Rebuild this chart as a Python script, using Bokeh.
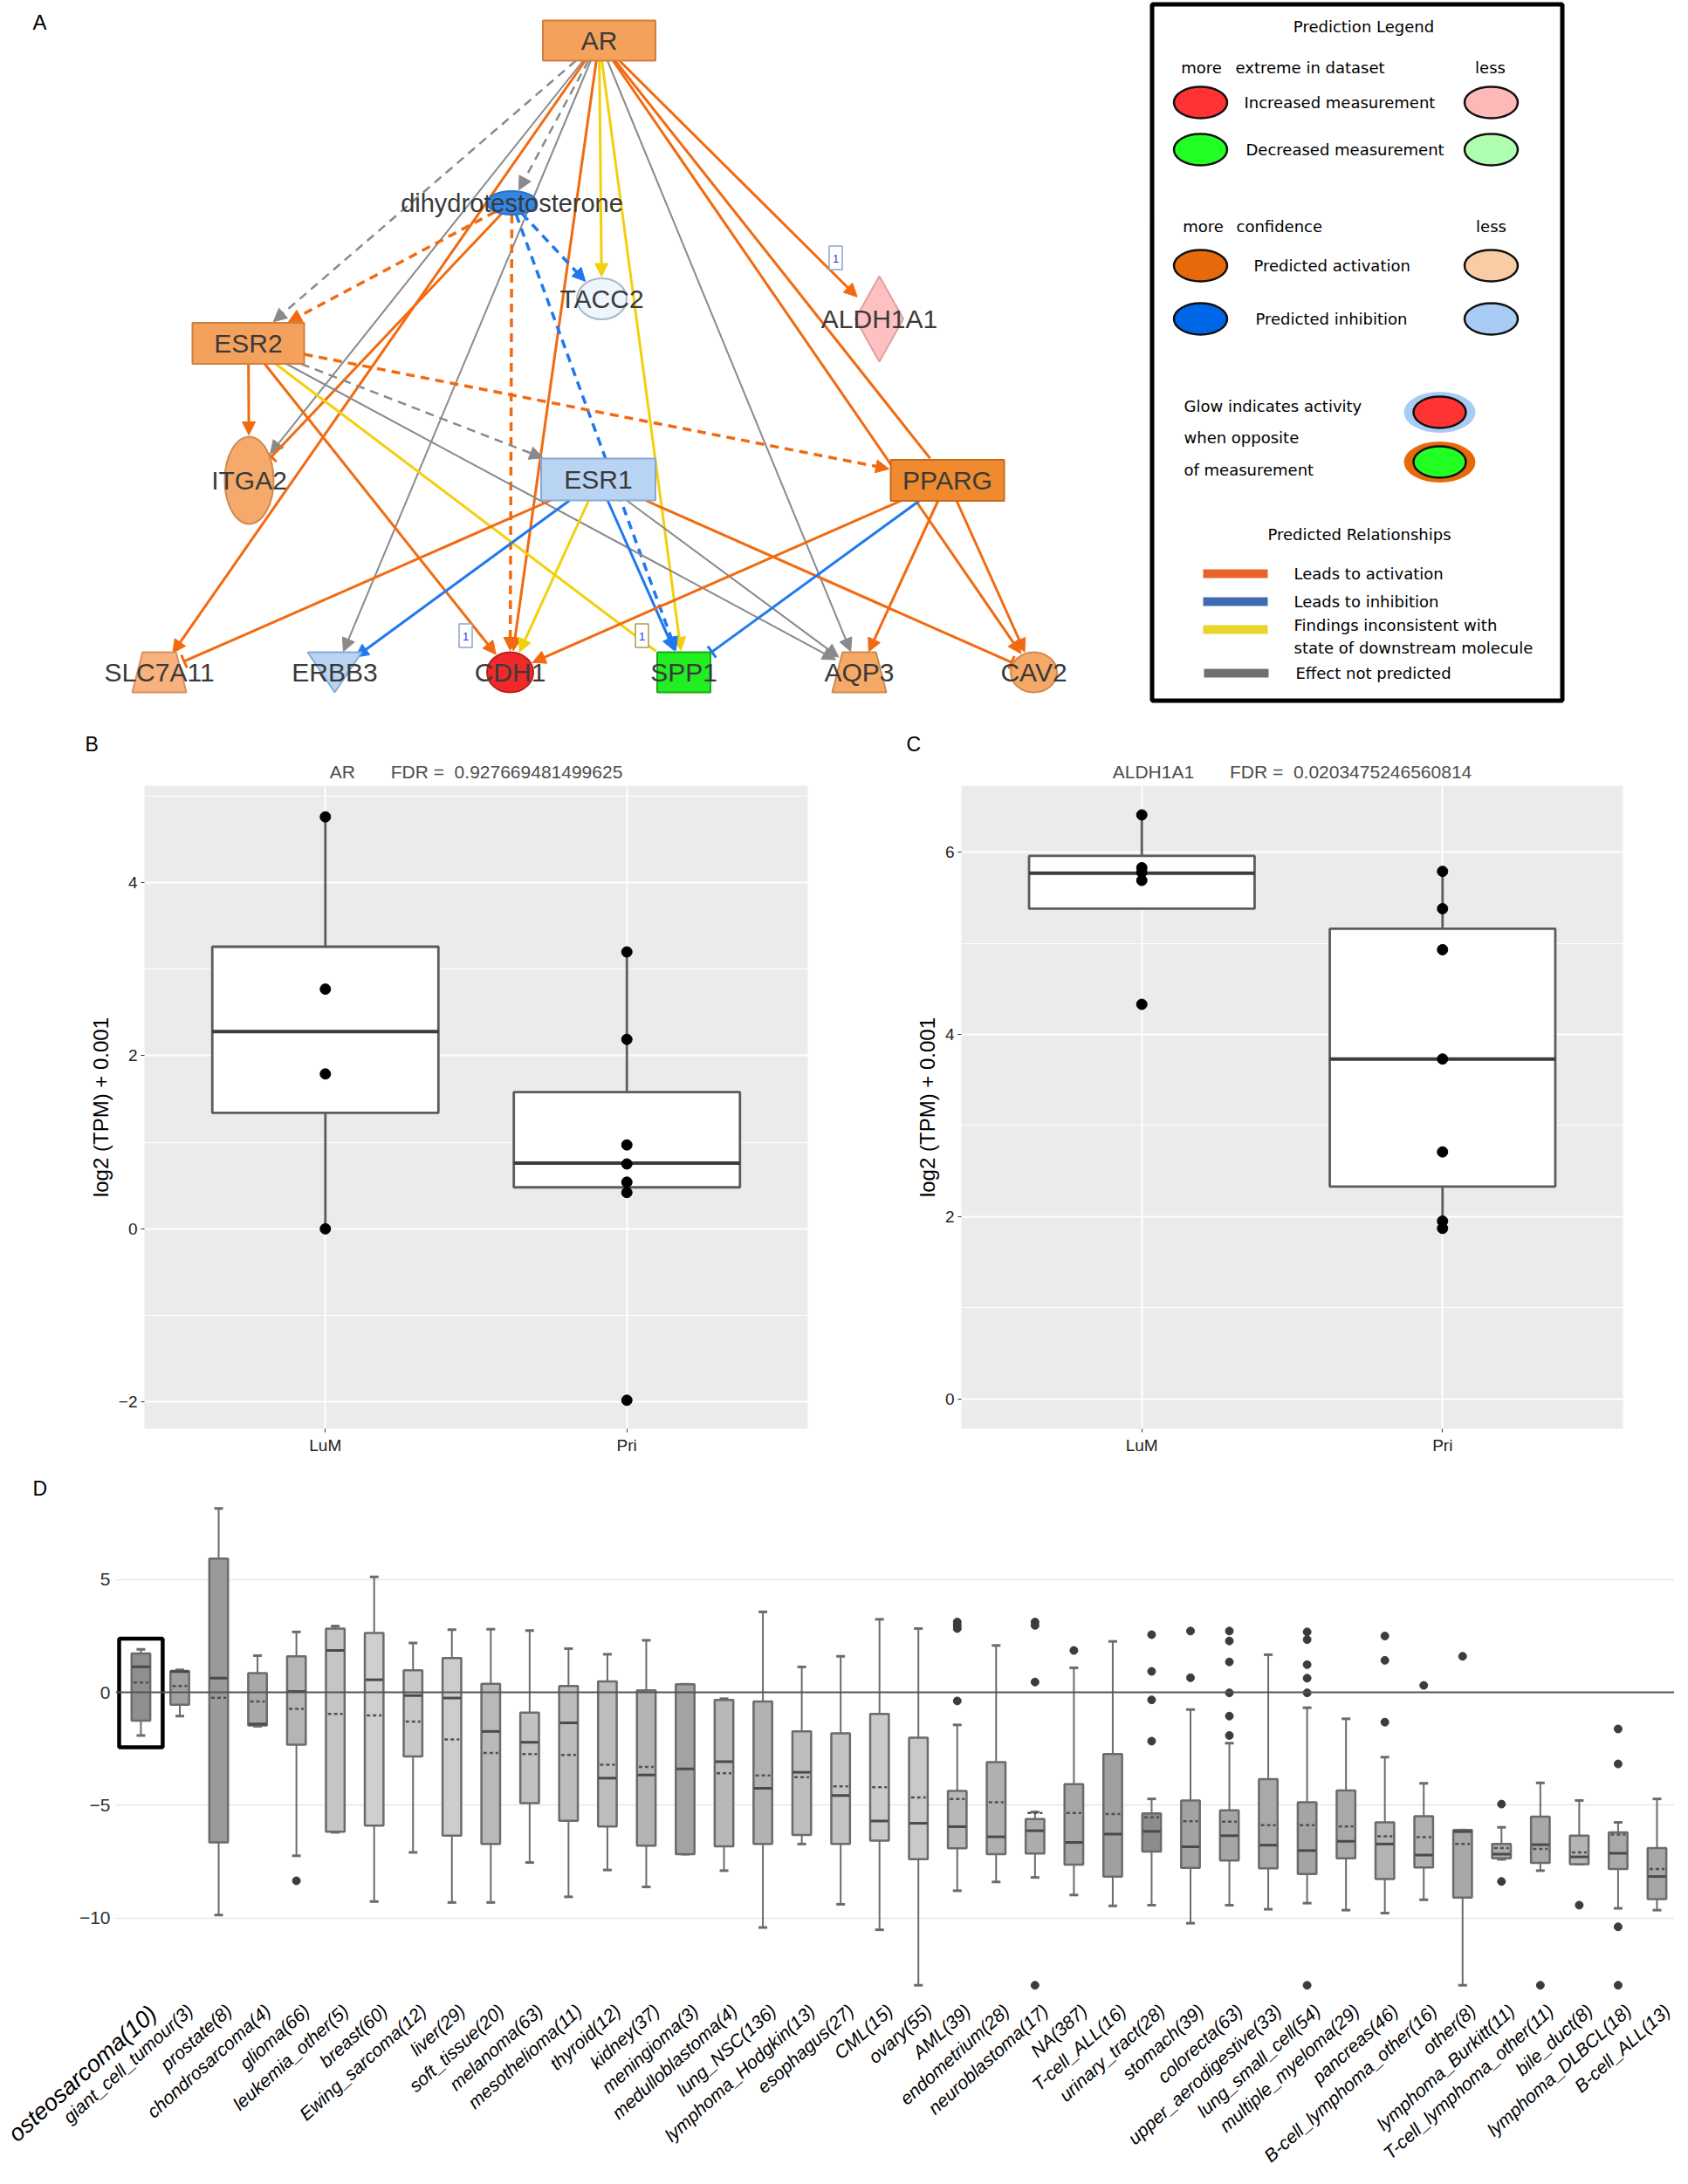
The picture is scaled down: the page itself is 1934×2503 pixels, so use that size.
import math
from bokeh.plotting import figure
from bokeh.models import (Range1d, FixedTicker, Title, Arrow, NormalHead, TeeHead, Span)
from bokeh.layouts import column, row
from bokeh.embed import file_html
from bokeh.resources import INLINE
from bokeh.core.properties import value

FONT = "Liberation Sans"

# ===================== DATA =====================
# ---- Panel A: network ----
node_names = ["AR", "dihydrotestosterone", "TACC2", "ALDH1A1", "ESR2", "ITGA2", "ESR1",
              "PPARG", "SLC7A11", "ERBB3", "CDH1", "SPP1", "AQP3", "CAV2"]
edge_src = ["AR"] * 12 + ["dihydrotestosterone"] * 5 + ["ESR2"] * 6 + ["ESR1"] * 6 + ["PPARG"] * 4
edge_dst = ["dihydrotestosterone", "ESR2", "ITGA2", "ERBB3", "AQP3", "SLC7A11", "CDH1", "ALDH1A1",
            "PPARG", "CAV2", "TACC2", "SPP1",
            "ESR2", "CDH1", "ITGA2", "TACC2", "SPP1",
            "ITGA2", "CDH1", "SPP1", "ESR1", "AQP3", "PPARG",
            "SLC7A11", "ERBB3", "CDH1", "SPP1", "AQP3", "CAV2",
            "CDH1", "SPP1", "AQP3", "CAV2"]
edge_type = ["none", "none", "none", "none", "none", "act", "act", "act", "act", "act", "incon", "incon",
             "act", "act", "act", "inh", "inh",
             "act", "act", "incon", "none", "none", "act",
             "act", "inh", "incon", "inh", "none", "act",
             "act", "inh", "act", "act"]
edge_dashed = [True, True, False, False, False, False, False, False, False, False, False, False,
               True, True, False, True, True,
               False, False, False, True, False, True,
               False, False, False, False, False, False,
               False, False, False, False]
edge_end = ["arrow", "arrow", "arrow", "arrow", "arrow", "arrow", "arrow", "arrow", "none", "arrow", "arrow", "arrow",
            "arrow", "arrow", "tee", "arrow", "arrow",
            "arrow", "arrow", "none", "arrow", "arrow", "arrow",
            "tee", "arrow", "arrow", "arrow", "arrow", "tee",
            "arrow", "tee", "arrow", "arrow"]

legend_rows_1 = ["Increased measurement", "Decreased measurement"]
legend_rows_2 = ["Predicted activation", "Predicted inhibition"]
legend_glow = ["Glow indicates activity", "when opposite", "of measurement"]
legend_rel = ["Leads to activation", "Leads to inhibition", "Findings inconsistent with",
              "state of downstream molecule", "Effect not predicted"]

# ---- Panel B: AR ----
b_groups = ["LuM", "Pri"]
b_gene, b_fdr = "AR", "0.927669481499625"
b_pts_lum = [4.76, 2.77, 1.79, 0.00]
b_pts_pri = [3.20, 2.19, 0.97, 0.75, 0.54, 0.42, -1.98]
b_q1 = [1.34, 0.48]
b_med = [2.28, 0.76]
b_q3 = [3.26, 1.58]
b_lo = [0.00, 0.42]
b_hi = [4.76, 3.20]

# ---- Panel C: ALDH1A1 ----
c_groups = ["LuM", "Pri"]
c_gene, c_fdr = "ALDH1A1", "0.0203475246560814"
c_pts_lum = [6.41, 5.83, 5.78, 5.69, 4.33]
c_pts_pri = [5.79, 5.38, 4.93, 3.73, 2.71, 1.95, 1.87]
c_q1 = [5.38, 2.33]
c_med = [5.77, 3.73]
c_q3 = [5.96, 5.16]
c_lo = [5.38, 1.87]
c_hi = [6.41, 5.79]

# ---- Panel D: tumour types ----
d_cats = ["osteosarcoma(10)", "giant_cell_tumour(3)", "prostate(8)", "chondrosarcoma(4)", "glioma(66)",
          "leukemia_other(5)", "breast(60)", "Ewing_sarcoma(12)", "liver(29)", "soft_tissue(20)",
          "melanoma(63)", "mesothelioma(11)", "thyroid(12)", "kidney(37)", "meningioma(3)",
          "medulloblastoma(4)", "lung_NSC(136)", "lymphoma_Hodgkin(13)", "esophagus(27)", "CML(15)",
          "ovary(55)", "AML(39)", "endometrium(28)", "neuroblastoma(17)", "NA(387)",
          "T-cell_ALL(16)", "urinary_tract(28)", "stomach(39)", "colorecta(63)", "upper_aerodigestive(33)",
          "lung_small_cell(54)", "multiple_myeloma(29)", "pancreas(46)", "B-cell_lymphoma_other(16)", "other(8)",
          "lymphoma_Burkitt(11)", "T-cell_lymphoma_other(11)", "bile_duct(8)", "lymphoma_DLBCL(18)", "B-cell_ALL(13)"]
d_hi = [1.91, 1.00, 8.15, 1.63, 2.68, 2.94, 5.12, 2.19, 2.78, 2.80,
        2.74, 1.94, 1.69, 2.31, 0.36, -0.28, 3.57, 1.13, 1.60, 3.24,
        2.83, -1.44, 2.08, -5.30, 1.09, 2.26, -4.72, -0.76, -2.25, 1.67,
        -0.68, -1.17, -2.87, -4.03, -6.10, -5.98, -4.01, -4.79, -5.76, -4.72]
d_q3 = [1.72, 0.95, 5.93, 0.85, 1.60, 2.83, 2.63, 0.98, 1.52, 0.38,
        -0.90, 0.28, 0.49, 0.09, 0.36, -0.33, -0.40, -1.73, -1.81, -0.95,
        -2.01, -4.37, -3.09, -5.61, -4.07, -2.73, -5.36, -4.79, -5.23, -3.84,
        -4.87, -4.35, -5.76, -5.49, -6.10, -6.72, -5.51, -6.35, -6.20, -6.90]
d_med = [1.13, 0.92, 0.63, -1.40, 0.04, 1.86, 0.56, -0.14, -0.25, -1.73,
         -2.21, -1.35, -3.80, -3.66, -3.39, -3.07, -4.25, -3.54, -4.57, -5.70,
         -5.80, -5.95, -6.40, -6.13, -6.65, -6.28, -6.16, -6.84, -6.35, -6.77,
         -7.01, -6.60, -6.72, -7.21, -6.17, -7.17, -6.75, -7.29, -7.13, -8.16]
d_q1 = [-1.25, -0.55, -6.65, -1.47, -2.32, -6.17, -5.90, -2.84, -6.35, -6.72,
        -4.91, -5.69, -5.94, -6.79, -7.17, -6.82, -6.72, -6.32, -6.72, -6.57,
        -7.39, -6.91, -7.17, -7.14, -7.63, -8.17, -7.05, -7.78, -7.45, -7.80,
        -8.05, -7.35, -8.27, -7.76, -9.09, -7.35, -7.56, -7.61, -7.83, -9.16]
d_lo = [-1.91, -1.05, -9.87, -1.50, -7.24, -6.20, -9.27, -7.09, -9.31, -9.31,
        -7.54, -9.06, -7.87, -8.62, -7.17, -7.90, -10.42, -6.72, -9.39, -10.52,
        -12.98, -8.79, -8.40, -8.20, -8.98, -9.46, -9.43, -10.23, -9.43, -9.61,
        -9.34, -9.65, -9.78, -9.19, -12.98, -7.40, -7.90, -7.61, -9.57, -9.65]
d_mean = [0.44, 0.28, -0.24, -0.40, -0.73, -0.95, -1.02, -1.29, -2.08, -2.68,
          -2.73, -2.77, -3.21, -3.30, -3.39, -3.58, -3.68, -3.76, -4.16, -4.20,
          -4.66, -4.72, -4.87, -5.34, -5.34, -5.39, -5.54, -5.71, -5.73, -5.88,
          -5.88, -5.94, -6.38, -6.42, -6.72, -6.90, -6.94, -7.09, -6.30, -7.83]
d_out_cat = ["glioma(66)",
             "AML(39)", "AML(39)", "AML(39)", "AML(39)",
             "neuroblastoma(17)", "neuroblastoma(17)", "neuroblastoma(17)", "neuroblastoma(17)",
             "NA(387)",
             "urinary_tract(28)", "urinary_tract(28)", "urinary_tract(28)", "urinary_tract(28)",
             "stomach(39)", "stomach(39)",
             "colorecta(63)", "colorecta(63)", "colorecta(63)", "colorecta(63)", "colorecta(63)", "colorecta(63)",
             "lung_small_cell(54)", "lung_small_cell(54)", "lung_small_cell(54)", "lung_small_cell(54)",
             "lung_small_cell(54)", "lung_small_cell(54)",
             "pancreas(46)", "pancreas(46)", "pancreas(46)",
             "B-cell_lymphoma_other(16)", "other(8)",
             "lymphoma_Burkitt(11)", "lymphoma_Burkitt(11)",
             "T-cell_lymphoma_other(11)", "bile_duct(8)",
             "lymphoma_DLBCL(18)", "lymphoma_DLBCL(18)", "lymphoma_DLBCL(18)", "lymphoma_DLBCL(18)"]
d_out_val = [-8.35,
             3.12, 2.97, 2.83, -0.38,
             3.12, 2.97, 0.46, -12.98,
             1.86,
             2.56, 0.93, -0.33, -2.16,
             2.72, 0.65,
             2.72, 2.28, 1.35, -0.02, -1.05, -1.91,
             2.68, 2.34, 1.23, 0.63, -0.02, -12.98,
             2.50, 1.42, -1.32,
             0.31, 1.60,
             -4.95, -8.38,
             -12.98, -9.43,
             -1.62, -3.17, -10.39, -12.98]
d_highlight = "osteosarcoma(10)"

# ===================== STYLES / LAYOUT =====================
node_x = [686, 586, 689, 1007, 284, 285, 685, 1085, 182, 383, 584, 783, 984, 1184]
node_y = [46, 232, 342, 365, 393, 550, 549, 550, 770, 770, 770, 770, 770, 770]
node_w = [129, 57, 57, 55, 128, 56, 131, 130, 62, 62, 53, 61, 62, 53]
node_h = [46, 27, 47, 98, 47, 100, 48, 47, 46, 46, 46, 46, 46, 46]
node_shape = ["rect", "ellipse", "ellipse", "diamond", "rect", "ellipse", "rect", "rect",
              "trap", "tri", "ellipse", "rect", "trap", "ellipse"]
node_fill = ["#f4a15c", "#3186e6", "#eef5fc", "#ffc0c2", "#f4a15c", "#f5aa6c", "#b8d4f2", "#f08a2e",
             "#f7b27e", "#b9d5f3", "#f02a2a", "#22ee22", "#f6a866", "#f6a866"]
node_line = ["#cf7f3f", "#2a6fc0", "#a9b9c9", "#e0a0a0", "#cf7f3f", "#d08a50", "#86a9d3", "#c86a1e",
             "#d89060", "#88aad6", "#b82020", "#18a818", "#d08a50", "#d08a50"]
edge_colors = {"act": "#f26a10", "inh": "#1f78ef", "incon": "#f2d00c", "none": "#8a8a8a"}

d_fill = ["#8f8f8f", "#a0a0a0", "#9a9a9a", "#a8a8a8", "#b5b5b5", "#c5c5c5", "#cfcfcf", "#c8c8c8", "#cdcdcd", "#b9b9b9",
          "#c2c2c2", "#bcbcbc", "#bdbdbd", "#b3b3b3", "#a3a3a3", "#b8b8b8", "#b2b2b2", "#bdbdbd", "#c4c4c4", "#cacaca",
          "#c9c9c9", "#b8b8b8", "#b0b0b0", "#acacac", "#a6a6a6", "#a0a0a0", "#8c8c8c", "#a2a2a2", "#a6a6a6", "#a9a9a9",
          "#a4a4a4", "#a9a9a9", "#b3b3b3", "#b0b0b0", "#a8a8a8", "#acacac", "#a8a8a8", "#b4b4b4", "#a9a9a9", "#a6a6a6"]

W = 1918

# ===================== PANEL A =====================
pA = figure(width=W, height=830, x_range=Range1d(0, W), y_range=Range1d(830, 0),
            toolbar_location=None, output_backend="svg", min_border=0,
            x_axis_location=None, y_axis_location=None, outline_line_color=None)
pA.grid.visible = False

idx = {n: i for i, n in enumerate(node_names)}


def boundary(i, ux, uy):
    hw, hh = node_w[i] / 2.0, node_h[i] / 2.0
    if node_shape[i] == "rect":
        tx = hw / abs(ux) if abs(ux) > 1e-9 else 1e9
        ty = hh / abs(uy) if abs(uy) > 1e-9 else 1e9
        return min(tx, ty)
    return 1.0 / math.sqrt((ux / hw) ** 2 + (uy / hh) ** 2)


for s, d, t, dash, end in zip(edge_src, edge_dst, edge_type, edge_dashed, edge_end):
    i, j = idx[s], idx[d]
    dx, dy = node_x[j] - node_x[i], node_y[j] - node_y[i]
    L = math.hypot(dx, dy)
    ux, uy = dx / L, dy / L
    ts = boundary(i, ux, uy)
    te = boundary(j, ux, uy) + 2
    col = edge_colors[t]
    lw = 2 if t == "none" else 3
    if end == "arrow":
        head = NormalHead(size=15, fill_color=col, line_color=col, line_width=1)
    elif end == "tee":
        head = TeeHead(size=16, line_color=col, line_width=3)
    else:
        head = None
    pA.add_layout(Arrow(x_start=node_x[i] + ux * ts, y_start=node_y[i] + uy * ts,
                        x_end=node_x[j] - ux * te, y_end=node_y[j] - uy * te,
                        line_color=col, line_width=lw + (0.5 if dash else 0),
                        line_dash="10 7" if dash else "solid", end=head, level="underlay"))

rect_i = [k for k, sh in enumerate(node_shape) if sh == "rect"]
pA.rect(x=[node_x[k] for k in rect_i], y=[node_y[k] for k in rect_i],
        width=[node_w[k] for k in rect_i], height=[node_h[k] for k in rect_i],
        fill_color=[node_fill[k] for k in rect_i], line_color=[node_line[k] for k in rect_i], line_width=2)
ell_i = [k for k, sh in enumerate(node_shape) if sh == "ellipse"]
pA.ellipse(x=[node_x[k] for k in ell_i], y=[node_y[k] for k in ell_i],
           width=[node_w[k] for k in ell_i], height=[node_h[k] for k in ell_i],
           fill_color=[node_fill[k] for k in ell_i], line_color=[node_line[k] for k in ell_i], line_width=2)
poly_x, poly_y, poly_f, poly_l = [], [], [], []
for k, sh in enumerate(node_shape):
    x0, y0, w, h = node_x[k], node_y[k], node_w[k], node_h[k]
    if sh == "diamond":
        xs = [x0, x0 + w / 2, x0, x0 - w / 2]
        ys = [y0 - h / 2, y0, y0 + h / 2, y0]
    elif sh == "trap":
        xs = [x0 - 0.31 * w, x0 + 0.31 * w, x0 + w / 2, x0 - w / 2]
        ys = [y0 - h / 2, y0 - h / 2, y0 + h / 2, y0 + h / 2]
    elif sh == "tri":
        xs = [x0 - w / 2, x0 + w / 2, x0]
        ys = [y0 - h / 2, y0 - h / 2, y0 + h / 2]
    else:
        continue
    poly_x.append(xs)
    poly_y.append(ys)
    poly_f.append(node_fill[k])
    poly_l.append(node_line[k])
pA.patches(xs=poly_x, ys=poly_y, fill_color=poly_f, line_color=poly_l, line_width=2)

lab_size = ["30px" if n != "dihydrotestosterone" else "29px" for n in node_names]
pA.text(x=node_x, y=node_y, text=node_names, text_align="center", text_baseline="middle",
        text_font=value(FONT), text_font_size=lab_size, text_color="#3a3a3a")

pA.rect(x=[957, 533, 735], y=[295, 728, 728], width=15, height=27, fill_color="white",
        line_color=["#8fa2cc", "#8fa2cc", "#b09a40"], line_width=1.5)
pA.text(x=[957, 533, 735], y=[296, 729, 729], text=["1", "1", "1"], text_align="center",
        text_baseline="middle", text_font=value(FONT), text_font_size="13px", text_color="#2233ee")

pA.text(x=[45], y=[25], text=["A"], text_align="center", text_baseline="middle",
        text_font=value(FONT), text_font_size="24px", text_color="black")

# legend box
pA.rect(x=[1554.5], y=[403.5], width=470, height=798, fill_color="white", line_color="black", line_width=5)
LF = value("DejaVu Sans")
pA.text(x=[1562, 1557], y=[30, 612], text=["Prediction Legend", "Predicted Relationships"],
        text_align="center", text_baseline="middle", text_font=LF, text_font_size="18px", text_color="black")
pA.text(x=[1376, 1707, 1378, 1708], y=[77, 77, 259, 259], text=["more", "less", "more", "less"],
        text_align="center", text_baseline="middle", text_font=LF, text_font_size="18px", text_color="black")
pA.text(x=[1415, 1416], y=[77, 259], text=["extreme in dataset", "confidence"],
        text_align="left", text_baseline="middle", text_font=LF, text_font_size="18px", text_color="black")
pA.text(x=[1425, 1427, 1436, 1438], y=[117, 171, 304, 365], text=legend_rows_1 + legend_rows_2,
        text_align="left", text_baseline="middle", text_font=LF, text_font_size="18px", text_color="black")
pA.text(x=[1356, 1356, 1356], y=[465, 501, 538], text=legend_glow,
        text_align="left", text_baseline="middle", text_font=LF, text_font_size="18px", text_color="black")
pA.text(x=[1482, 1482, 1482, 1482, 1484], y=[657, 689, 716, 742, 771], text=legend_rel,
        text_align="left", text_baseline="middle", text_font=LF, text_font_size="18px", text_color="black")
pA.ellipse(x=[1375, 1708, 1375, 1708, 1375, 1708, 1375, 1708],
           y=[117, 117, 171, 171, 304, 304, 365, 365], width=61, height=36,
           fill_color=["#ff3333", "#ffb8b8", "#22ff22", "#b0ffb0", "#e8690a", "#f8cca4", "#0066e8", "#a8ccf4"],
           line_color="#111111", line_width=2.5)
pA.ellipse(x=[1649, 1649], y=[472, 529], width=82, height=47, fill_color=["#a8ccf4", "#e8690a"],
           line_color=None)
pA.ellipse(x=[1649, 1649], y=[472, 529], width=60, height=36, fill_color=["#ff3333", "#22ff22"],
           line_color="#111111", line_width=2.5)
pA.rect(x=[1415, 1415, 1415, 1416], y=[657, 689, 721, 771], width=74, height=10,
        fill_color=["#e8632a", "#3f6ab0", "#e8d42a", "#707070"], line_color=None)


# ===================== PANELS B & C =====================
def box_panel(groups, pts_a, pts_b, q1, med, q3, lo, hi, yr, ticks, minor, gene, fdr,
              letter, fig_w, mbl, mbr, letter_off):
    p = figure(width=fig_w, height=860, x_range=Range1d(0.4, 2.6), y_range=Range1d(*yr),
               toolbar_location=None, output_backend="svg",
               min_border_left=mbl, min_border_right=mbr, min_border_top=70, min_border_bottom=53,
               background_fill_color="#ebebeb", border_fill_color="white", outline_line_color=None)
    xs = [k + 1 for k in range(len(groups))]
    p.xgrid.ticker = FixedTicker(ticks=xs)
    p.ygrid.ticker = FixedTicker(ticks=ticks, minor_ticks=minor)
    p.grid.grid_line_color = "white"
    p.grid.grid_line_width = 2
    p.ygrid.minor_grid_line_color = "white"
    p.ygrid.minor_grid_line_width = 1
    p.quad(left=[x - 0.375 for x in xs], right=[x + 0.375 for x in xs], top=q3, bottom=q1,
           fill_color="white", line_color="#5c5c5c", line_width=2.8)
    p.segment(x0=xs, y0=q3, x1=xs, y1=hi, line_color="#5c5c5c", line_width=2.8)
    p.segment(x0=xs, y0=q1, x1=xs, y1=lo, line_color="#5c5c5c", line_width=2.8)
    p.segment(x0=[x - 0.375 for x in xs], y0=med, x1=[x + 0.375 for x in xs], y1=med,
              line_color="#3c3c3c", line_width=4)
    p.scatter(x=[xs[0]] * len(pts_a), y=pts_a, size=12, color="black")
    p.scatter(x=[xs[1]] * len(pts_b), y=pts_b, size=12, color="black")
    p.xaxis.ticker = FixedTicker(ticks=xs)
    p.xaxis.major_label_overrides = {x: g for x, g in zip(xs, groups)}
    p.yaxis.ticker = FixedTicker(ticks=ticks)
    for ax in (p.xaxis, p.yaxis):
        ax.axis_line_color = None
        ax.major_tick_line_color = "#333333"
        ax.major_tick_out = 4
        ax.major_tick_in = 0
        ax.minor_tick_line_color = None
        ax.major_label_text_font = FONT
        ax.major_label_text_font_size = "19px"
        ax.major_label_text_color = "#222222"
        ax.major_label_standoff = 4
    p.yaxis.axis_label = "log2 (TPM) + 0.001"
    p.yaxis.axis_label_text_font = FONT
    p.yaxis.axis_label_text_font_size = "24px"
    p.yaxis.axis_label_text_font_style = "normal"
    p.yaxis.axis_label_text_color = "black"
    p.yaxis.axis_label_standoff = 4
    p.add_layout(Title(text=gene + "\u00a0" * 7 + "FDR =" + "\u00a0" * 2 + fdr, align="center",
                       text_font=FONT, text_font_size="21px", text_font_style="normal",
                       text_color="#4d4d4d", standoff=10), "above")
    p.add_layout(Title(text=letter, align="left", offset=letter_off, text_font=FONT,
                       text_font_size="23px", text_font_style="normal", text_color="black",
                       standoff=0), "above")
    return p


pB = box_panel(b_groups, b_pts_lum, b_pts_pri, b_q1, b_med, b_q3, b_lo, b_hi,
               (-2.31, 5.12), [-2, 0, 2, 4], [-1, 1, 3, 5], b_gene, b_fdr,
               "B", 960, 165, 35, -68)
pC = box_panel(c_groups, c_pts_lum, c_pts_pri, c_q1, c_med, c_q3, c_lo, c_hi,
               (-0.33, 6.73), [0, 2, 4, 6], [1, 3, 5], c_gene, c_fdr,
               "C", 958, 141, 59, -63)

# ===================== PANEL D =====================
d_pos = [k + 1 for k in range(len(d_cats))]
d_out_pos = [d_cats.index(c) + 1 for c in d_out_cat]
D_LEFT = 132
xr0, xr1 = 0.35, 40.45
ppu = (W - D_LEFT) / (xr1 - xr0)

pD = figure(width=W, height=600, x_range=Range1d(xr0, xr1), y_range=Range1d(-13.57, 8.55),
            toolbar_location=None, output_backend="svg", x_axis_location=None,
            min_border_left=D_LEFT, min_border_right=0, min_border_top=28, min_border_bottom=0,
            outline_line_color=None)
pD.xgrid.visible = False
pD.yaxis.ticker = FixedTicker(ticks=[-10, -5, 0, 5])
pD.ygrid.ticker = FixedTicker(ticks=[-10, -5, 5])
pD.ygrid.grid_line_color = "#e6e6e6"
pD.ygrid.grid_line_width = 1.5
pD.yaxis.axis_line_color = None
pD.yaxis.major_tick_line_color = None
pD.yaxis.major_tick_out = 0
pD.yaxis.major_tick_in = 0
pD.yaxis.minor_tick_line_color = None
pD.yaxis.minor_tick_out = 0
pD.yaxis.major_label_standoff = 6
pD.yaxis.major_label_text_font = FONT
pD.yaxis.major_label_text_font_size = "21px"
pD.yaxis.major_label_text_color = "#333333"
pD.yaxis.major_label_overrides = {-10: "\u221210", -5: "\u22125"}

box_line = "#6b6b6b"
pD.segment(x0=d_pos, y0=d_q3, x1=d_pos, y1=d_hi, line_color=box_line, line_width=2)
pD.segment(x0=d_pos, y0=d_q1, x1=d_pos, y1=d_lo, line_color=box_line, line_width=2)
pD.scatter(x=d_pos, y=d_hi, marker="dash", size=10, line_color=box_line, line_width=3)
pD.scatter(x=d_pos, y=d_lo, marker="dash", size=10, line_color=box_line, line_width=3)
pD.vbar(x=d_pos, top=d_q3, bottom=d_q1, width=0.48, fill_color=d_fill,
        line_color=box_line, line_width=2.5)
pD.rect(x=d_pos, y=d_med, width=0.46, height=3, height_units="screen",
        fill_color="#4a4a4a", line_color=None)
pD.scatter(x=d_pos, y=d_mean, marker="dash", size=17, line_color="#505050", line_width=2.5,
           line_dash="4 3")
pD.scatter(x=d_out_pos, y=d_out_val, size=9, color="#3c3c3c")
pD.add_layout(Span(location=0, dimension="width", line_color="#555555", line_width=2))
pD.rect(x=[d_cats.index(d_highlight) + 1], y=[-0.025], width=1.12, height=4.81, fill_color=None,
        line_color="black", line_width=4.5)
pD.add_layout(Title(text="D", align="left", offset=-95, text_font=FONT, text_font_size="23px",
                    text_font_style="normal", text_color="black", standoff=0), "above")

# category labels (rotated) in a strip under panel D, sharing the same x scale
pDL = figure(width=W, height=197, x_range=Range1d(xr0 - D_LEFT / ppu, xr1), y_range=Range1d(2487, 2290),
             toolbar_location=None, output_backend="svg", min_border=0,
             x_axis_location=None, y_axis_location=None, outline_line_color=None)
pDL.grid.visible = False
lab_font = ["27px" if c == d_highlight else "21px" for c in d_cats]
pDL.text(x=d_pos, y=2292, text=d_cats, angle=0.733, text_align="right", text_baseline="top",
         x_offset=4, text_font=value(FONT), text_font_style="italic", text_font_size=lab_font,
         text_color="black")

layout = column(row(pA), row(pB, pC), row(pD), row(pDL))
open("out.html", "w").write(file_html(layout, INLINE))
